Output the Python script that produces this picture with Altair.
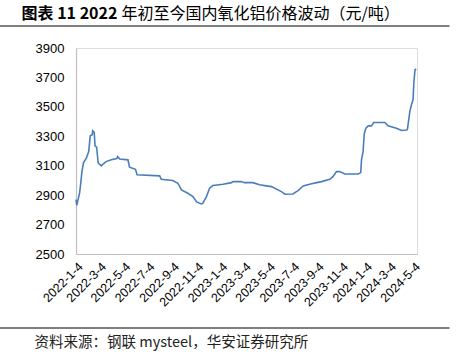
import altair as alt
import pandas as pd

dates = ["2022/01/04","2022/01/06","2022/01/08","2022/01/13","2022/01/15","2022/01/19","2022/01/23","2022/01/30",
         "2022/02/05","2022/02/09","2022/02/14","2022/02/15","2022/02/19","2022/02/21","2022/02/25","2022/03/01",
         "2022/03/09","2022/03/14","2022/03/21","2022/04/03","2022/04/17","2022/04/19","2022/04/24","2022/05/15",
         "2022/05/19","2022/06/03","2022/06/07","2022/08/03","2022/08/07","2022/09/05","2022/09/18","2022/09/27",
         "2022/10/13","2022/10/26","2022/11/04","2022/11/16","2022/11/20","2022/11/29","2022/12/07","2022/12/15",
         "2023/01/10","2023/01/31","2023/02/04","2023/02/25","2023/03/05","2023/03/26","2023/04/12","2023/04/29",
         "2023/05/12","2023/06/06","2023/06/15","2023/07/05","2023/07/18","2023/07/31","2023/08/21","2023/09/03",
         "2023/09/15","2023/10/06","2023/10/14","2023/10/23","2023/10/31","2023/11/13","2023/12/17","2023/12/23",
         "2023/12/25","2023/12/29","2024/01/01","2024/01/05","2024/01/11","2024/01/19","2024/01/25","2024/02/22",
         "2024/03/01","2024/03/22","2024/04/04","2024/04/17","2024/04/19","2024/04/25","2024/04/29","2024/05/03",
         "2024/05/05","2024/05/08","2024/05/11"]
prices = [2870,2830,2856,2913,2958,3060,3121,3151,
          3196,3303,3310,3337,3326,3235,3226,3117,
          3099,3113,3128,3140,3148,3162,3145,3140,
          3090,3076,3038,3031,3008,2999,2981,2936,
          2913,2890,2854,2840,2845,2890,2947,2965,
          2974,2985,2992,2992,2985,2985,2970,2963,
          2958,2924,2906,2908,2931,2963,2977,2985,
          2992,3008,3026,3060,3060,3044,3044,3053,
          3140,3196,3317,3355,3371,3371,3394,3394,
          3371,3355,3339,3342,3350,3469,3514,3548,
          3662,3752,3757]

tick_dates = [(2022,1),(2022,3),(2022,5),(2022,7),(2022,9),(2022,11),(2023,1),(2023,3),(2023,5),
              (2023,7),(2023,9),(2023,11),(2024,1),(2024,3),(2024,5)]
y_ticks = [2500,2700,2900,3100,3300,3500,3700,3900]

title_bold = "图表 11 2022"
title_rest = "年初至今国内氧化铝价格波动（元/吨）"
source_text = "资料来源：钢联 mysteel，华安证券研究所"

df = pd.DataFrame({"date": dates, "price": prices})

tick_vals = [alt.DateTime(year=y, month=m, date=4) for y, m in tick_dates]

line = alt.Chart(df).mark_line(color="#4A7EBB", strokeWidth=1.6).encode(
    x=alt.X("date:T",
            scale=alt.Scale(domain=[alt.DateTime(year=2022, month=1, date=4),
                                    alt.DateTime(year=2024, month=5, date=13)], nice=False),
            axis=alt.Axis(values=tick_vals, format="%Y-%-m-%-d", labelAngle=-45, title=None,
                          ticks=False, grid=False, domainColor="#BFBFBF", domainWidth=1.2,
                          labelFont="Liberation Sans", labelFontSize=12.5, labelColor="#000000",
                          labelPadding=6, labelOverlap=False, labelBound=False, labelFlush=False)),
    y=alt.Y("price:Q",
            scale=alt.Scale(domain=[2500, 3900], nice=False, zero=False),
            axis=alt.Axis(values=y_ticks, format="d", title=None, ticks=False, grid=False,
                          domainColor="#BFBFBF", domainWidth=1.2,
                          labelFont="Liberation Sans", labelFontSize=13, labelColor="#000000",
                          labelPadding=12, labelOverlap=False)),
)

t1 = alt.Chart(pd.DataFrame({"t": [title_bold]})).mark_text(
    align="left", baseline="middle", font="Noto Sans CJK SC", fontSize=16, fontWeight="bold",
    color="#000000").encode(text="t:N", x=alt.value(-54.5), y=alt.value(-34))
t2 = alt.Chart(pd.DataFrame({"t": [title_rest]})).mark_text(
    align="left", baseline="middle", font="Noto Sans CJK SC", fontSize=16,
    color="#000000").encode(text="t:N", x=alt.value(45.5), y=alt.value(-34))
src = alt.Chart(pd.DataFrame({"t": [source_text]})).mark_text(
    align="left", baseline="middle", font="Noto Sans CJK SC", fontSize=14.5,
    color="#222222").encode(text="t:N", x=alt.value(-41.5), y=alt.value(295))

rule_top = alt.Chart(pd.DataFrame({"a": [0]})).mark_rule(color="#555555", strokeWidth=1.3).encode(
    x=alt.value(-76.5), x2=alt.value(373.5), y=alt.value(-22))
rule_bot = alt.Chart(pd.DataFrame({"a": [0]})).mark_rule(color="#555555", strokeWidth=1.3).encode(
    x=alt.value(-76.5), x2=alt.value(373.5), y=alt.value(280))

chart = alt.layer(line, t1, t2, src, rule_top, rule_bot).properties(
    width=341, height=206,
    autosize=alt.AutoSizeParams(type="none"),
    padding={"left": 76, "top": 48, "right": 41, "bottom": 101},
).configure_view(stroke=None).configure(background="white")

chart.save("out.html", embed_options={"renderer": "svg", "actions": False})
